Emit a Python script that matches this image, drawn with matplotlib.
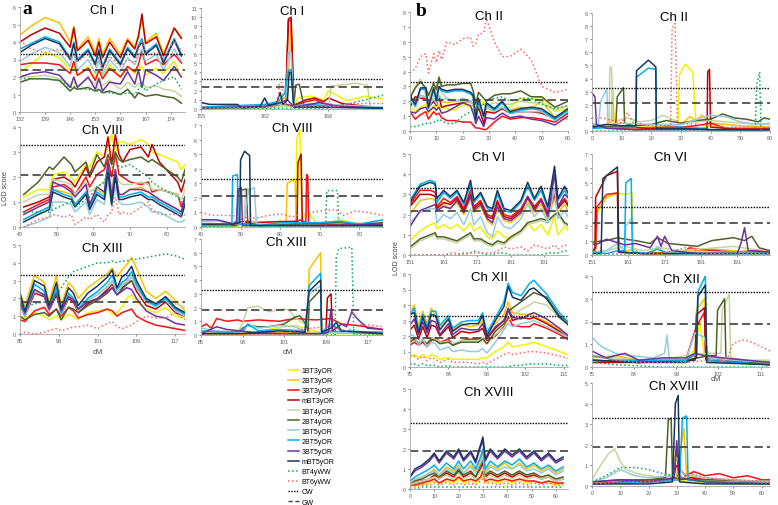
import matplotlib.pyplot as plt
from matplotlib.lines import Line2D

plt.rcParams['font.family'] = ['Liberation Sans', 'DejaVu Sans']

# traits in legend order
traits = ["1BT3yOR", "2BT3yOR", "3BT3yOR", "mBT3yOR", "1BT4yOR", "2BT4yOR",
          "1BT5yOR", "2BT5yOR", "3BT5yOR", "mBT5yOR", "BT4yWW", "BT6yWW"]
trait_colors = ["#F2F200", "#FFC000", "#FF1010", "#C00000", "#C3D69B", "#4F6228",
                "#93CDDD", "#00B0F0", "#7030A0", "#17375E", "#00B050", "#FF6666"]
trait_styles = ["-"] * 10 + [":", ":"]

# significance thresholds (chromosome-wide CW, genome-wide GW)
cw_lod = 3.3
gw_chI, gw_chVIII, gw_chXIII = 2.4, 2.1, 1.8
gw_chII, gw_chVI, gw_chXII, gw_chXVIII = 2.1, 2.2, 1.9, 1.9

# ---------------- panel a, left column ----------------
chI_a_x = [132, 135, 139, 143, 146, 147, 148, 151, 153, 154, 155, 157, 160, 162, 164, 165, 166, 167, 170, 172, 175, 177]
chI_a_lod = [
    [2.3, 2.7, 3.4, 3.1, 2.4, 2.6, 2.1, 2.6, 1.9, 2.4, 2.0, 2.7, 2.0, 2.6, 2.2, 2.5, 2.6, 2.1, 2.5, 2.2, 2.9, 2.0],
    [4.4, 4.9, 5.4, 5.1, 4.0, 4.9, 3.6, 4.3, 3.4, 4.2, 3.3, 4.2, 3.3, 4.2, 3.7, 4.4, 5.3, 4.0, 4.5, 3.3, 4.8, 4.3],
    [2.7, 2.8, 2.8, 2.7, 2.2, 2.9, 2.1, 2.5, 1.8, 2.4, 1.9, 2.5, 2.0, 2.6, 2.3, 2.7, 3.5, 2.7, 3.0, 2.7, 3.3, 2.8],
    [4.0, 4.4, 4.8, 4.5, 3.7, 4.8, 3.5, 4.1, 3.2, 4.0, 3.1, 4.0, 3.1, 4.1, 3.6, 4.3, 5.6, 3.9, 4.3, 3.2, 4.8, 4.2],
    [2.0, 2.0, 2.1, 1.9, 1.5, 1.7, 1.5, 1.9, 1.6, 2.0, 1.5, 1.8, 1.3, 1.7, 1.4, 1.6, 1.7, 1.4, 1.5, 1.3, 1.2, 0.9],
    [1.7, 1.9, 1.9, 1.8, 1.2, 1.4, 1.3, 1.4, 1.2, 1.3, 1.1, 1.2, 1.0, 1.3, 0.8, 1.1, 1.0, 0.9, 1.0, 0.9, 0.8, 0.5],
    [2.9, 3.3, 3.7, 3.4, 2.6, 3.4, 2.4, 3.0, 2.2, 3.0, 2.1, 3.0, 2.3, 3.1, 2.7, 3.2, 3.6, 2.9, 3.3, 2.4, 3.6, 2.9],
    [3.6, 3.9, 4.3, 4.0, 3.1, 4.0, 3.0, 3.6, 2.8, 3.6, 2.6, 3.6, 2.8, 3.7, 3.2, 3.8, 4.2, 3.4, 3.9, 2.9, 4.2, 3.3],
    [2.0, 2.2, 2.3, 2.1, 1.4, 2.0, 1.4, 2.0, 1.3, 1.9, 1.2, 1.7, 1.6, 2.3, 1.6, 2.4, 1.4, 2.4, 2.1, 1.8, 2.6, 2.0],
    [3.4, 3.8, 4.2, 3.9, 3.0, 3.9, 2.9, 3.5, 2.7, 3.5, 2.5, 3.5, 2.7, 3.6, 3.1, 3.7, 4.0, 3.3, 3.8, 2.8, 4.1, 3.2],
    [1.9, 1.9, 1.9, 1.8, 1.4, 1.5, 1.3, 1.3, 1.2, 1.2, 1.1, 1.1, 1.0, 1.1, 1.0, 1.3, 1.6, 1.2, 1.6, 1.8, 2.0, 1.3],
    [4.1, 3.6, 3.4, 3.6, 3.1, 3.3, 2.9, 3.3, 2.6, 3.1, 2.5, 3.2, 2.6, 3.0, 2.8, 3.6, 4.0, 3.2, 3.4, 3.0, 4.1, 3.5],
]

chVIII_a_x = [41, 45, 48, 49, 52, 54, 55, 58, 59, 61, 63, 64, 65, 66, 67, 68, 70, 73, 75, 76, 78, 83, 84, 85]
chVIII_a_lod = [
    [1.2, 1.5, 1.5, 2.1, 2.2, 2.0, 1.8, 2.5, 2.4, 3.0, 2.8, 3.2, 3.7, 3.0, 3.4, 3.4, 3.3, 3.5, 3.3, 3.0, 2.9, 2.6, 2.3, 2.5],
    [0.3, 0.6, 0.8, 1.5, 1.4, 1.3, 0.9, 1.4, 0.9, 1.5, 1.3, 2.4, 1.1, 2.2, 1.3, 1.3, 1.5, 1.6, 1.4, 1.3, 1.1, 0.7, 0.6, 1.1],
    [0.6, 0.9, 1.1, 1.6, 1.7, 1.5, 1.3, 2.0, 1.6, 2.1, 2.3, 2.7, 2.0, 2.9, 2.1, 2.0, 1.8, 1.7, 1.8, 1.4, 1.5, 1.3, 0.8, 1.2],
    [0.8, 1.0, 1.2, 1.9, 2.0, 1.8, 1.6, 2.4, 2.0, 2.6, 2.8, 3.6, 2.5, 3.7, 2.9, 2.6, 3.1, 3.2, 2.8, 3.3, 2.6, 1.8, 1.4, 1.9],
    [1.0, 1.3, 1.3, 1.9, 1.8, 1.7, 1.3, 1.8, 1.4, 1.6, 1.8, 2.0, 1.6, 2.3, 1.8, 1.7, 1.7, 1.8, 1.7, 1.5, 1.5, 1.3, 1.1, 1.5],
    [1.3, 1.8, 2.4, 2.3, 2.8, 2.5, 2.2, 2.6, 2.1, 2.9, 2.4, 2.9, 2.5, 3.0, 2.7, 2.6, 2.7, 2.8, 2.6, 2.7, 2.5, 2.0, 1.8, 2.3],
    [0.0, 0.2, 0.4, 1.0, 1.0, 0.9, 0.6, 1.0, 0.5, 1.1, 0.9, 1.8, 0.8, 1.6, 1.0, 0.9, 0.9, 1.0, 0.8, 0.6, 0.6, 0.2, 0.2, 0.3],
    [0.3, 0.6, 0.8, 1.5, 1.3, 1.2, 0.9, 1.4, 0.8, 1.4, 1.2, 2.3, 1.0, 2.1, 1.2, 1.2, 1.3, 1.4, 1.2, 1.2, 1.0, 0.6, 0.5, 1.0],
    [0.5, 0.8, 1.0, 1.8, 1.6, 1.4, 1.2, 1.7, 0.9, 1.6, 1.4, 2.6, 1.2, 2.3, 1.3, 1.3, 1.5, 1.5, 1.4, 1.3, 1.1, 0.7, 0.6, 1.2],
    [0.2, 0.5, 0.7, 1.4, 1.2, 1.1, 0.8, 1.3, 0.7, 1.3, 1.1, 2.2, 0.9, 2.0, 1.1, 1.1, 1.2, 1.3, 1.1, 1.1, 0.9, 0.5, 0.4, 0.9],
    [0.6, 0.6, 0.6, 0.7, 0.9, 1.0, 0.8, 1.1, 1.2, 1.6, 1.8, 2.3, 2.3, 2.8, 2.4, 2.4, 2.5, 2.2, 2.0, 1.8, 1.6, 1.2, 1.0, 1.2],
    [0.0, 0.3, 0.4, 0.5, 0.4, 0.5, 0.1, 0.4, 0.3, 0.5, 0.2, 0.5, 0.6, 1.2, 0.5, 0.6, 0.5, 0.8, 1.0, 0.7, 0.5, 0.5, 0.4, 0.5],
]

chXIII_a_x = [85, 86, 88, 90, 91, 92.5, 93.5, 95, 96, 97, 99, 101, 103, 104, 105, 106, 107, 108, 109, 111, 113, 115, 117, 119]
chXIII_a_lod = [
    [1.0, 0.9, 1.2, 1.0, 0.8, 1.0, 0.8, 1.1, 1.0, 0.8, 1.2, 1.3, 1.4, 1.1, 1.2, 1.5, 2.0, 2.2, 1.8, 1.4, 1.2, 1.5, 1.0, 0.9],
    [2.3, 1.6, 3.3, 2.9, 1.8, 3.3, 1.6, 2.9, 2.6, 2.0, 2.6, 3.0, 3.4, 3.7, 3.2, 3.6, 3.9, 4.3, 3.7, 2.4, 2.0, 2.4, 1.9, 1.3],
    [0.8, 0.7, 1.3, 1.5, 1.1, 1.4, 1.0, 1.5, 1.3, 0.9, 1.1, 1.2, 1.4, 1.3, 1.0, 1.2, 1.3, 1.4, 1.0, 0.7, 0.5, 0.4, 0.3, 0.2],
    [1.7, 1.0, 2.3, 2.1, 1.3, 2.2, 1.1, 2.0, 1.8, 1.2, 1.7, 2.0, 2.5, 2.8, 2.3, 2.6, 2.8, 3.0, 2.4, 1.6, 1.4, 1.8, 1.2, 1.0],
    [1.8, 1.3, 2.4, 2.2, 1.5, 2.4, 1.3, 2.2, 2.0, 1.5, 2.0, 2.3, 2.6, 2.9, 2.5, 2.8, 3.0, 3.2, 2.8, 2.0, 1.7, 2.1, 1.7, 1.5],
    [1.0, 0.8, 1.1, 1.2, 1.0, 1.4, 0.8, 1.5, 1.4, 1.2, 1.6, 1.9, 2.3, 2.6, 2.2, 2.5, 2.8, 3.0, 2.6, 1.9, 1.6, 1.9, 1.4, 1.2],
    [1.9, 1.0, 2.5, 2.2, 1.3, 2.4, 1.1, 2.1, 1.9, 1.3, 1.9, 2.2, 2.7, 3.0, 2.3, 2.7, 2.9, 3.2, 2.6, 1.8, 1.5, 1.9, 1.3, 1.0],
    [2.1, 1.1, 2.8, 2.4, 1.4, 2.6, 1.2, 2.3, 2.0, 1.4, 2.0, 2.4, 2.9, 3.3, 2.5, 2.9, 3.1, 3.5, 2.8, 1.9, 1.6, 2.0, 1.4, 1.1],
    [1.8, 1.2, 2.5, 2.2, 1.4, 2.3, 1.3, 2.1, 1.9, 1.4, 1.8, 2.0, 2.4, 2.6, 2.2, 2.4, 2.6, 2.5, 2.0, 1.3, 1.0, 0.9, 0.6, 0.5],
    [2.3, 1.3, 3.0, 2.7, 1.6, 2.9, 1.4, 2.6, 2.3, 1.6, 2.3, 2.7, 3.2, 3.6, 2.6, 3.2, 3.4, 3.8, 3.0, 2.0, 1.7, 2.1, 1.5, 1.2],
    [1.4, 1.5, 1.7, 1.8, 1.8, 2.2, 2.6, 3.2, 3.5, 3.6, 3.8, 4.0, 4.0, 4.1, 4.0, 4.1, 4.1, 4.2, 4.2, 4.3, 4.4, 4.5, 4.4, 4.2],
    [0.0, 0.1, 0.0, 0.1, 0.2, 0.3, 0.2, 0.3, 0.4, 0.4, 0.5, 0.3, 0.6, 0.7, 0.4, 0.3, 0.4, 0.5, 0.7, 1.0, 0.9, 0.9, 1.2, 0.8],
]

# ---------------- panel a, right column (cM, LOD) ----------------
chI_a2_pts = [
    [(155, 0.2), (159, 0.3), (162, 0.3), (163.5, 0.5), (165.3, 0.3), (165.6, 1.2), (167, 1.4), (168.5, 1.0), (169, 2.0), (171, 0.9), (173, 1.4), (175, 1.1)],
    [(155, 0.1), (159, 0.4), (160, 0.1), (162, 0.3), (163.5, 0.6), (164.5, 1.5), (164.9, 9.0), (165.2, 0.3), (167, 0.5), (170, 0.2), (175, 0.1)],
    [(155, 0.1), (162, 0.2), (164.3, 0.8), (164.6, 9.6), (164.9, 9.7), (165.2, 0.3), (166.5, 0.8), (167.5, 1.0), (168.5, 0.6), (170, 0.4), (173, 0.2), (175, 0.1)],
    [(155, 0.1), (162, 0.2), (164.3, 0.6), (164.6, 9.8), (164.9, 10.0), (165.2, 0.4), (166.5, 1.0), (167.5, 1.2), (168.5, 0.8), (169, 1.2), (170.5, 0.6), (173, 0.3), (175, 0.1)],
    [(155, 0.1), (162, 0.1), (164.5, 0.3), (165.5, 0.2), (169, 0.2), (169.3, 2.5), (172, 2.8), (173.3, 2.6), (173.6, 0.1), (175, 0.1)],
    [(155, 0.1), (162, 0.2), (164, 0.6), (165.2, 0.3), (165.4, 2.6), (165.8, 2.7), (166.3, 0.4), (168, 0.2), (170, 0.3), (175, 0.1)],
    [(155, 0.2), (162, 0.3), (164.3, 0.6), (164.6, 6.2), (164.9, 6.2), (165.2, 0.3), (167, 0.6), (169, 0.5), (171, 0.4), (175, 0.2)],
    [(155, 0.2), (162, 0.5), (163.5, 0.8), (164.2, 1.7), (164.6, 4.2), (164.9, 4.3), (165.2, 0.3), (167, 0.5), (170, 0.2), (175, 0.1)],
    [(155, 0.1), (162, 0.3), (163.5, 0.6), (164.5, 1.0), (165.2, 0.2), (167, 0.5), (168, 0.7), (170, 0.3), (175, 0.1)],
    [(155, 0.7), (156, 0.5), (159, 0.5), (159.5, 0.1), (161.5, 0.3), (162, 1.2), (162.4, 0.4), (163.3, 0.6), (163.7, 1.8), (164, 0.5), (164.5, 1.0), (164.7, 4.0), (164.9, 4.0), (165.2, 0.2), (167, 0.2), (175, 0.1)],
    [(155, 0.0), (169, 0.1), (171, 0.5), (173, 1.0), (175, 1.5)],
    [(155, 0.1), (162, 0.2), (163.4, 0.3), (163.6, 2.8), (163.9, 2.9), (164.1, 0.5), (165, 0.3), (170, 0.3), (171, 0.6), (175, 0.6)],
]

chVIII_a2_pts = [
    [(40, 0.1), (58, 0.1), (60, 0.5), (61, 0.1), (63, 0.2), (64, 0.3), (64.2, 6.0), (65, 6.7), (65.5, 0.5), (67, 1.1), (69, 0.3), (73, 0.3), (75, 0.5), (80, 0.2), (86, 0.1)],
    [(40, 0.1), (55, 0.3), (61.5, 0.2), (61.8, 3.0), (63.8, 3.3), (64, 0.3), (67, 0.2), (86, 0.1)],
    [(40, 0.1), (52, 0.4), (55, 0.1), (64, 0.2), (65, 0.5), (66.5, 0.3), (66.7, 3.6), (67, 3.5), (67.2, 0.2), (86, 0.1)],
    [(40, 0.1), (52, 0.3), (64.3, 0.4), (64.5, 4.4), (65.3, 5.0), (65.6, 0.3), (68, 0.1), (86, 0.1)],
    [(40, 0.3), (47, 0.2), (51, 0.3), (51.2, 2.6), (52.3, 2.6), (52.6, 0.3), (60, 0.1), (75, 0.3), (86, 0.2)],
    [(40, 0.1), (49, 0.1), (49.5, 2.5), (51.5, 2.6), (51.8, 0.3), (55, 0.1), (75, 0.3), (80, 0.2), (86, 0.3)],
    [(40, 0.4), (45, 0.4), (47, 0.2), (51, 0.6), (52, 2.5), (53.5, 2.7), (54, 0.2), (60, 0.1), (86, 0.1)],
    [(40, 0.1), (47.8, 0.1), (48, 3.5), (49.2, 3.6), (49.4, 0.2), (55, 0.1), (60, 0.3), (70, 0.3), (75, 0.4), (80, 0.2), (86, 0.5)],
    [(40, 0.5), (44, 0.5), (47, 0.3), (48, 0.1), (49, 0.4), (49.3, 2.6), (50.2, 2.7), (50.5, 0.1), (60, 0.1), (75, 0.1), (86, 0.2)],
    [(40, 0.2), (48, 0.2), (49.8, 0.3), (50, 4.6), (51, 5.2), (52.3, 4.9), (52.5, 0.1), (60, 0.1), (86, 0.1)],
    [(40, 0.0), (71.5, 0.0), (71.8, 2.5), (74.5, 2.5), (74.8, 0.0), (86, 0.0)],
    [(40, 1.0), (43, 0.8), (47, 0.8), (50, 0.7), (54, 0.6), (57, 0.8), (60, 0.9), (63, 0.7), (66, 0.9), (70, 1.1), (74, 1.2), (76, 0.8), (79, 1.1), (82, 1.0), (86, 0.8)],
]

chXIII_a2_pts = [
    [(85, 0.1), (95, 0.1), (97, 0.3), (99, 0.5), (103, 0.7), (105, 0.5), (107, 0.3), (109, 0.1), (120, 0.1)],
    [(85, 0.1), (105.5, 0.2), (105.8, 4.8), (108, 6.0), (108.2, 0.2), (120, 0.1)],
    [(85, 0.6), (86, 0.8), (87, 0.5), (88, 1.2), (90, 1.0), (92, 1.1), (93, 1.0), (96, 1.1), (100, 1.0), (103, 1.2), (107, 1.1), (110, 1.2), (112, 0.8), (115, 0.7), (120, 0.4)],
    [(85, 0.1), (109, 0.1), (109.3, 2.7), (110, 3.0), (110.3, 0.2), (120, 0.1)],
    [(85, 0.1), (92, 0.1), (93, 0.9), (94, 2.0), (96, 2.1), (98, 1.7), (101, 1.9), (102, 1.8), (103, 1.3), (105, 0.8), (106, 0.2), (120, 0.1)],
    [(85, 0.1), (92, 0.1), (93, 0.5), (94, 0.7), (96, 0.6), (98, 0.6), (101, 0.8), (103, 1.3), (104, 1.4), (105, 0.9), (105.6, 0.3), (105.8, 2.4), (108, 3.3), (108.2, 0.3), (120, 0.1)],
    [(85, 0.5), (88, 0.3), (93, 0.2), (94, 0.8), (96, 0.5), (100, 0.7), (103, 0.6), (105, 0.3), (105.8, 3.0), (108, 3.6), (108.2, 0.2), (120, 0.2)],
    [(85, 0.3), (90, 0.2), (93, 0.3), (94, 0.8), (96, 0.3), (100, 0.4), (105, 0.3), (105.8, 3.6), (108, 4.5), (108.2, 0.2), (110, 0.8), (112, 0.3), (120, 0.2)],
    [(85, 0.1), (88, 0.6), (90, 0.4), (95, 0.2), (100, 0.1), (108, 0.1), (109.5, 0.2), (110, 1.9), (110.3, 0.3), (112, 0.8), (113, 0.6), (114, 1.7), (115, 1.2), (117, 0.5), (120, 0.4)],
    [(85, 0.1), (93, 0.1), (96, 0.2), (100, 0.3), (105, 0.2), (105.8, 3.2), (108, 4.0), (108.2, 0.2), (110, 0.5), (111, 0.9), (112, 0.3), (120, 0.1)],
    [(85, 0.0), (110.8, 0.0), (111, 5.6), (111.5, 6.3), (114, 6.4), (114.4, 0.0), (120, 0.0)],
    [(85, 0.0), (100, 0.0), (103, 0.3), (106, 0.5), (110, 0.6), (113, 0.3), (116, 0.8), (118, 0.7), (120, 0.6)],
]

# ---------------- panel b, left column ----------------
chII_b_x = [0, 2, 4, 6, 7, 9, 10, 11, 12, 14, 17, 20, 23, 24, 25, 26, 28, 29, 32, 35, 38, 42, 46, 50, 55, 60]
chII_b_lod = [
    [1.6, 1.3, 1.6, 1.8, 1.2, 1.7, 1.4, 1.8, 1.6, 1.5, 1.4, 1.8, 1.6, 1.3, 1.5, 1.9, 2.0, 1.5, 1.3, 1.5, 1.6, 2.2, 2.1, 2.3, 1.3, 1.5],
    [1.9, 2.2, 2.4, 2.3, 1.8, 2.2, 1.9, 2.3, 2.0, 1.9, 2.0, 2.0, 1.9, 1.8, 1.0, 1.7, 1.2, 1.6, 1.5, 1.6, 1.4, 1.6, 1.5, 2.0, 0.9, 0.8],
    [1.3, 0.8, 1.1, 1.3, 0.8, 1.3, 1.1, 1.2, 0.9, 0.7, 0.7, 0.6, 0.6, 0.4, 0.2, 0.2, 0.1, 0.1, 0.6, 1.0, 0.8, 0.9, 0.9, 0.8, 0.6, 1.2],
    [1.6, 2.3, 2.2, 2.2, 1.6, 2.0, 1.7, 2.3, 1.6, 1.7, 1.8, 1.9, 2.0, 1.8, 0.9, 1.6, 0.5, 1.3, 1.2, 1.5, 1.2, 1.3, 1.3, 1.2, 0.8, 1.2],
    [2.3, 3.0, 3.5, 2.4, 2.0, 3.3, 2.5, 3.7, 2.6, 2.2, 2.0, 2.0, 1.9, 1.8, 1.6, 1.8, 1.7, 1.7, 1.9, 1.8, 1.8, 2.0, 1.9, 1.9, 1.4, 1.7],
    [2.2, 2.9, 3.3, 2.9, 2.4, 3.2, 2.8, 3.6, 3.0, 3.1, 3.1, 3.2, 3.2, 2.7, 1.8, 2.6, 2.2, 2.0, 2.4, 2.5, 2.5, 2.7, 2.3, 2.3, 1.6, 2.0],
    [2.1, 1.6, 2.4, 2.3, 1.6, 2.2, 1.8, 2.4, 2.1, 2.2, 2.0, 2.2, 2.0, 1.8, 1.0, 1.8, 1.1, 1.6, 1.3, 1.6, 1.2, 1.3, 1.3, 1.3, 0.7, 1.3],
    [2.3, 1.7, 2.8, 2.8, 1.5, 2.8, 2.0, 2.9, 2.7, 2.6, 2.7, 2.7, 2.5, 2.3, 0.7, 2.1, 0.9, 1.8, 1.4, 1.9, 1.2, 1.4, 1.5, 1.4, 0.8, 1.4],
    [1.3, 1.2, 1.5, 1.6, 1.3, 1.6, 1.4, 1.6, 1.2, 1.3, 1.6, 1.9, 1.7, 1.2, 0.5, 1.0, 0.3, 0.9, 0.8, 1.2, 0.9, 1.0, 0.8, 0.7, 0.4, 1.0],
    [2.4, 1.8, 2.9, 2.9, 1.6, 2.9, 2.1, 3.0, 2.8, 2.7, 2.8, 2.8, 2.6, 2.4, 0.8, 2.2, 1.0, 1.9, 1.5, 2.0, 1.3, 1.5, 1.6, 1.5, 0.9, 1.5],
    [0.3, 0.3, 0.4, 0.5, 0.5, 0.6, 0.6, 0.8, 0.7, 0.5, 0.5, 1.0, 1.3, 1.5, 1.5, 1.9, 1.8, 2.0, 2.2, 2.3, 2.0, 2.2, 2.2, 1.8, 1.5, 1.7],
    [3.9, 4.2, 5.0, 5.2, 3.9, 5.2, 4.6, 5.4, 4.8, 6.0, 5.8, 6.2, 6.3, 5.7, 5.9, 6.5, 6.6, 7.6, 6.0, 5.0, 5.0, 5.5, 4.8, 3.0, 2.6, 2.8],
]

chVI_b_x = [151, 154, 157, 158.5, 159, 161, 163, 165, 167, 169, 170, 172, 174, 175.5, 177, 179, 181, 184, 186, 188, 190, 192, 194, 195, 197, 200]
chVI_b_lod = [
    [0.7, 1.2, 1.5, 1.6, 1.3, 1.5, 1.3, 1.5, 1.2, 1.6, 1.2, 1.4, 0.9, 0.8, 1.2, 0.9, 0.8, 1.2, 1.6, 1.2, 1.5, 1.0, 1.9, 1.0, 1.4, 0.9],
    [2.0, 2.7, 2.8, 2.7, 2.2, 2.5, 2.3, 2.6, 2.0, 2.8, 2.1, 2.4, 1.7, 1.5, 2.3, 1.7, 1.6, 2.0, 2.6, 2.1, 2.5, 1.8, 2.8, 2.1, 2.5, 1.5],
    [2.5, 3.2, 3.2, 3.1, 2.4, 2.8, 2.6, 2.9, 2.3, 3.2, 2.4, 2.7, 2.0, 1.9, 2.7, 2.0, 1.9, 2.3, 2.9, 2.4, 2.8, 2.1, 3.2, 2.4, 2.8, 2.0],
    [2.4, 3.0, 3.0, 2.9, 2.3, 2.6, 2.5, 2.8, 2.2, 3.0, 2.3, 2.6, 1.9, 1.8, 2.6, 1.9, 1.8, 2.2, 2.8, 2.3, 2.7, 2.0, 3.0, 2.3, 2.7, 1.9],
    [0.3, 0.7, 0.9, 1.0, 0.8, 0.8, 0.7, 0.6, 0.8, 1.0, 0.7, 0.7, 0.5, 0.4, 0.6, 0.5, 0.8, 1.1, 1.5, 1.6, 1.7, 1.6, 1.9, 2.0, 1.5, 1.2],
    [0.4, 0.8, 1.0, 1.1, 0.9, 0.9, 0.8, 0.7, 0.9, 1.1, 0.8, 0.8, 0.6, 0.5, 0.7, 0.6, 0.9, 1.2, 1.6, 1.7, 1.8, 1.7, 2.0, 2.1, 1.6, 1.3],
    [1.6, 2.1, 2.3, 2.3, 1.6, 2.0, 1.8, 2.1, 1.5, 2.3, 1.5, 1.9, 1.1, 0.9, 1.9, 1.4, 1.3, 1.8, 2.5, 1.9, 2.3, 1.6, 3.3, 1.8, 2.2, 1.3],
    [2.7, 3.5, 3.7, 3.6, 2.6, 3.1, 2.8, 3.1, 2.5, 3.5, 2.6, 3.0, 2.3, 2.2, 3.0, 2.2, 2.1, 2.6, 3.4, 2.7, 3.2, 2.3, 4.0, 2.7, 3.2, 2.2],
    [1.4, 2.2, 2.4, 2.5, 2.2, 2.4, 2.3, 2.7, 2.1, 2.9, 2.2, 2.5, 1.8, 1.6, 2.4, 1.8, 1.7, 2.1, 2.9, 2.2, 2.7, 1.9, 4.0, 2.4, 3.0, 2.5],
    [2.6, 3.4, 3.6, 3.5, 2.8, 3.2, 2.9, 3.2, 2.6, 3.7, 2.7, 3.1, 2.4, 2.3, 3.2, 2.3, 2.2, 2.7, 3.6, 2.8, 3.4, 2.4, 4.4, 2.8, 3.4, 2.4],
    [0.0, 0.0, 0.0, 0.0, 0.0, 0.0, 0.0, 0.0, 0.1, 0.1, 0.2, 0.1, 0.0, 0.0, 0.1, 0.1, 0.0, 0.0, 0.0, 0.0, 0.0, 0.1, 0.1, 0.1, 0.2, 0.2],
    [0.0, 0.0, 0.0, 0.0, 0.0, 0.0, 0.1, 0.1, 0.0, 0.1, 0.1, 0.1, 0.1, 0.1, 0.2, 0.4, 0.3, 0.4, 0.2, 0.5, 0.4, 0.3, 0.5, 0.3, 0.5, 0.3],
]

chXII_b_x = [75, 76, 77, 78, 79, 80, 81, 82, 84, 85, 87, 89, 91, 92, 93, 95, 97, 98, 99, 101, 103, 104, 107, 110, 113]
chXII_b_lod = [
    [0.6, 0.8, 0.6, 0.8, 0.6, 0.8, 0.7, 0.5, 0.6, 0.5, 0.5, 0.5, 0.5, 0.6, 0.6, 1.0, 1.3, 1.6, 1.3, 1.4, 1.5, 1.6, 1.3, 1.0, 0.7],
    [3.5, 4.0, 2.7, 3.6, 2.8, 3.8, 3.3, 2.6, 3.1, 2.4, 2.8, 2.6, 2.7, 3.0, 2.3, 2.8, 3.4, 4.2, 3.5, 3.4, 3.4, 3.3, 2.9, 2.4, 1.9],
    [1.4, 1.6, 1.4, 1.6, 1.3, 1.7, 1.9, 1.6, 1.8, 1.4, 1.7, 1.8, 1.8, 1.9, 1.7, 2.0, 2.6, 3.2, 2.7, 2.6, 2.6, 2.8, 2.5, 2.1, 1.6],
    [2.4, 2.7, 1.8, 2.6, 1.9, 2.7, 2.6, 2.0, 2.6, 1.9, 2.3, 2.2, 2.3, 2.5, 1.8, 2.5, 3.0, 3.7, 3.0, 3.2, 3.1, 3.2, 2.8, 2.3, 1.7],
    [1.7, 1.9, 1.6, 1.8, 1.6, 1.9, 1.8, 1.6, 1.6, 1.5, 1.7, 1.7, 1.7, 1.9, 1.5, 2.1, 2.5, 3.0, 3.3, 3.7, 4.0, 4.2, 4.0, 3.2, 2.6],
    [1.6, 1.8, 1.5, 1.7, 1.5, 1.8, 1.7, 1.5, 1.6, 1.4, 1.6, 1.6, 1.6, 1.8, 1.5, 2.3, 2.8, 3.6, 3.8, 4.2, 4.6, 4.8, 4.5, 3.3, 2.7],
    [2.1, 2.0, 1.4, 1.8, 1.3, 1.6, 1.5, 1.1, 1.3, 1.0, 1.1, 1.0, 1.0, 1.2, 0.9, 1.6, 2.4, 2.8, 2.6, 2.8, 2.9, 3.0, 2.6, 2.2, 1.8],
    [3.3, 3.8, 2.4, 3.4, 2.6, 3.6, 3.6, 2.7, 3.3, 2.5, 2.9, 3.0, 3.0, 3.5, 2.2, 3.2, 4.2, 5.4, 4.8, 4.6, 5.4, 5.6, 4.7, 3.5, 2.6],
    [2.7, 3.1, 2.1, 2.9, 2.2, 3.0, 2.9, 2.1, 2.8, 2.1, 2.5, 2.4, 2.4, 2.8, 1.9, 2.6, 3.0, 3.8, 3.2, 3.1, 3.4, 3.5, 3.1, 2.5, 1.8],
    [3.4, 3.5, 2.2, 3.2, 2.4, 3.4, 3.3, 2.4, 3.1, 2.3, 2.7, 2.8, 2.8, 3.3, 2.0, 3.0, 3.9, 5.2, 4.5, 4.3, 5.0, 5.1, 4.4, 3.2, 2.5],
    [0.2, 0.2, 0.1, 0.2, 0.1, 0.1, 0.1, 0.0, 0.1, 0.0, 0.0, 0.0, 0.0, 0.0, 0.0, 0.0, 0.0, 0.0, 0.1, 0.1, 0.2, 0.2, 0.2, 0.1, 0.1],
    [0.8, 0.7, 0.5, 0.7, 0.4, 0.6, 0.5, 0.3, 0.5, 0.3, 0.3, 0.3, 0.2, 0.3, 0.2, 0.5, 0.8, 0.9, 0.8, 0.9, 1.0, 1.0, 0.9, 0.7, 0.5],
]

chXVIII_b_x = [0, 2, 5, 8, 10, 12, 15, 18, 20, 22, 25, 27, 29, 30, 31, 33, 36, 39, 42, 45, 48, 51, 54, 57, 60, 63]
chXVIII_b_lod = [
    [0.1, 0.2, 0.2, 0.3, 0.4, 0.3, 0.4, 0.3, 0.5, 0.3, 0.4, 0.3, 0.5, 0.7, 0.3, 0.4, 0.3, 0.4, 0.3, 0.4, 0.3, 0.4, 0.3, 0.3, 0.2, 0.3],
    [0.3, 0.4, 0.6, 0.8, 1.0, 0.7, 1.1, 0.9, 1.2, 0.8, 1.2, 0.9, 1.5, 1.8, 0.9, 1.2, 1.0, 1.3, 1.0, 1.3, 1.0, 1.2, 0.9, 1.1, 0.8, 1.0],
    [0.2, 0.2, 0.3, 0.4, 0.5, 0.3, 0.5, 0.4, 0.6, 0.4, 0.5, 0.4, 0.6, 0.9, 0.4, 0.5, 0.4, 0.5, 0.4, 0.5, 0.4, 0.4, 0.3, 0.4, 0.3, 0.3],
    [0.2, 0.3, 0.4, 0.5, 0.7, 0.5, 0.8, 0.6, 0.9, 0.6, 0.8, 0.6, 1.0, 1.3, 0.6, 0.8, 0.6, 0.8, 0.6, 0.8, 0.6, 0.7, 0.5, 0.6, 0.4, 0.5],
    [0.2, 0.3, 0.4, 0.5, 0.6, 0.5, 0.7, 0.5, 0.8, 0.5, 0.7, 0.5, 0.9, 1.1, 0.5, 0.7, 0.5, 0.7, 0.5, 0.7, 0.5, 0.6, 0.5, 0.6, 0.4, 0.5],
    [0.3, 0.4, 0.5, 0.7, 0.8, 0.6, 0.9, 0.7, 1.0, 0.7, 0.9, 0.6, 1.2, 1.5, 0.7, 0.9, 0.7, 0.9, 0.7, 0.9, 0.7, 0.8, 0.6, 0.7, 0.5, 0.6],
    [0.3, 0.5, 0.6, 0.8, 0.9, 0.7, 1.0, 0.8, 1.1, 0.8, 1.1, 0.8, 1.3, 1.6, 0.8, 1.1, 0.9, 1.1, 1.0, 1.2, 0.9, 1.0, 0.8, 1.0, 0.7, 0.9],
    [0.4, 0.6, 0.8, 1.0, 1.2, 0.9, 1.3, 1.0, 1.4, 1.0, 1.4, 1.0, 1.6, 2.0, 1.0, 1.4, 1.1, 1.4, 1.2, 1.5, 1.1, 1.3, 1.0, 1.2, 0.9, 1.1],
    [0.6, 0.9, 1.1, 1.4, 1.7, 1.3, 1.8, 1.5, 1.9, 1.4, 1.8, 1.3, 2.1, 2.4, 1.4, 1.9, 1.5, 1.9, 1.6, 1.9, 1.5, 1.8, 1.4, 1.7, 1.3, 1.5],
    [0.6, 1.0, 1.2, 1.5, 1.8, 1.4, 1.9, 1.6, 2.0, 1.5, 1.9, 1.4, 2.2, 2.6, 1.5, 2.0, 1.6, 2.0, 1.7, 2.0, 1.6, 1.9, 1.5, 1.8, 1.4, 1.6],
    [0.0, 0.0, 0.1, 0.1, 0.1, 0.1, 0.1, 0.1, 0.1, 0.1, 0.1, 0.1, 0.1, 0.1, 0.1, 0.1, 0.1, 0.1, 0.1, 0.1, 0.1, 0.1, 0.1, 0.1, 0.1, 0.1],
    [0.1, 0.1, 0.2, 0.2, 0.3, 0.2, 0.3, 0.2, 0.3, 0.2, 0.3, 0.2, 0.4, 0.5, 0.3, 0.3, 0.2, 0.3, 0.2, 0.3, 0.2, 0.3, 0.2, 0.3, 0.2, 0.2],
]

# ---------------- panel b, right column (cM, LOD) ----------------
chII_b2_pts = [
    [(0, 0.3), (5, 0.3), (15, 0.1), (28, 0.2), (29, 0.6), (29.5, 4.3), (31.5, 5.1), (34, 4.5), (35, 0.6), (38, 0.4), (45, 0.2), (60, 0.2)],
    [(0, 0.4), (5, 0.5), (6.5, 0.7), (7, 3.2), (7.5, 0.5), (10, 0.3), (20, 0.3), (30, 0.5), (33, 1.1), (35, 0.8), (37, 1.2), (40, 0.6), (50, 0.4), (60, 0.3)],
    [(0, 0.6), (3, 0.3), (8, 0.2), (15, 0.1), (25, 0.3), (30, 0.3), (35, 0.4), (40, 0.6), (45, 0.2), (52, 0.2), (60, 0.2)],
    [(0, 0.3), (10, 0.3), (20, 0.2), (30, 0.2), (38.8, 0.2), (39, 4.5), (39.6, 4.7), (40, 0.3), (50, 0.1), (60, 0.1)],
    [(0, 0.6), (5, 0.4), (5.8, 0.5), (6, 4.9), (6.6, 4.8), (7, 0.7), (12, 1.0), (16, 0.7), (20, 0.8), (24, 1.2), (30, 0.6), (40, 0.8), (50, 0.6), (60, 0.5)],
    [(0, 0.4), (5, 0.3), (8, 0.4), (8.5, 2.6), (10, 3.1), (10.6, 3.3), (11, 0.6), (14, 0.4), (20, 0.5), (25, 0.8), (30, 0.6), (35, 0.8), (40, 0.9), (44, 1.3), (48, 1.0), (52, 0.9), (56, 0.7), (58, 1.0), (60, 0.9)],
    [(0, 0.6), (2, 0.3), (3, 2.3), (5, 3.2), (5.4, 0.5), (10, 0.6), (20, 0.5), (30, 0.5), (40, 1.2), (45, 1.1), (50, 0.7), (55, 0.5), (60, 0.6)],
    [(0, 0.2), (10, 0.3), (14.8, 0.3), (15, 4.1), (19, 4.8), (21.5, 4.7), (21.7, 0.2), (30, 0.3), (40, 0.1), (60, 0.1)],
    [(0, 2.9), (1, 2.6), (1.5, 0.5), (5, 0.2), (15, 0.1), (30, 0.1), (40, 0.1), (60, 0.1)],
    [(0, 0.3), (5, 0.5), (10, 0.4), (14.8, 0.4), (15, 4.6), (19, 5.4), (21.5, 4.9), (21.7, 0.2), (30, 0.2), (40, 0.1), (60, 0.1)],
    [(0, 0.0), (55, 0.0), (55.5, 3.5), (56.5, 4.5), (57, 0.0), (60, 0.0)],
    [(0, 1.0), (3, 1.0), (7, 0.8), (10, 0.6), (12, 1.4), (14, 0.6), (20, 0.4), (26.5, 0.4), (27, 7.8), (28, 8.2), (28.8, 0.6), (35, 0.5), (45, 0.3), (60, 0.3)],
]

chVI_b2_pts = [
    [(151, 0.1), (152, 0.5), (152.5, 3.0), (155, 4.0), (158, 4.3), (160, 4.2), (162, 4.3), (162.3, 0.2), (165, 0.1), (180, 0.1), (200, 0.1)],
    [(151, 0.1), (152, 0.3), (152.5, 3.0), (155, 4.0), (158, 4.3), (158.3, 0.2), (163, 0.4), (164, 0.1), (185, 0.4), (190, 0.3), (195, 0.1), (200, 0.2)],
    [(151, 0.1), (152, 0.5), (152.3, 3.3), (155, 4.2), (158, 4.3), (158.3, 0.2), (165, 0.1), (175, 0.1), (178, 0.5), (180, 0.4), (190, 0.2), (196, 0.3), (200, 0.3)],
    [(151, 0.1), (151.8, 0.5), (152, 4.0), (155, 5.5), (158, 5.8), (158.4, 0.2), (165, 0.1), (200, 0.2)],
    [(151, 0.2), (155, 0.3), (158, 0.5), (160, 0.6), (165, 0.3), (170, 0.5), (175, 0.3), (185, 0.5), (190, 0.6), (195, 0.4), (200, 0.3)],
    [(151, 0.9), (155, 1.0), (158, 1.2), (160, 1.1), (163, 1.0), (167, 0.8), (169, 1.2), (172, 0.8), (176, 0.7), (180, 0.6), (184, 1.0), (190, 1.2), (193, 1.0), (195, 1.3), (197, 0.5), (200, 0.3)],
    [(151, 0.2), (155, 0.3), (158, 0.8), (160, 0.3), (160.3, 2.0), (162, 2.6), (162.3, 0.3), (165, 0.1), (168, 0.3), (169, 0.6), (171, 0.2), (185, 0.2), (200, 0.2)],
    [(151, 0.2), (155, 0.1), (158, 0.3), (160, 0.3), (160.3, 5.0), (161.8, 5.3), (162.1, 0.2), (166, 0.1), (169, 0.4), (172, 0.1), (200, 0.1)],
    [(151, 0.8), (152, 0.7), (155, 1.1), (160, 0.7), (163, 0.8), (167, 0.5), (169, 1.3), (170, 0.6), (171, 1.3), (173, 0.3), (180, 0.1), (191, 0.1), (192, 0.8), (193, 1.9), (194, 0.3), (200, 0.2)],
    [(151, 0.1), (153.5, 0.1), (154, 5.3), (158, 6.1), (158.3, 0.2), (165, 0.1), (200, 0.1)],
    [(151, 0.0), (170, 0.0), (180, 0.1), (200, 0.1)],
    [(151, 0.1), (170, 0.1), (175, 0.4), (178, 0.6), (180, 0.2), (185, 0.1), (200, 0.1)],
]

chXII_b2_pts = [
    [(75, 0.3), (85, 0.2), (95, 0.3), (97, 0.8), (98, 2.0), (99, 0.5), (105, 0.3), (113, 0.2)],
    [(75, 0.4), (80, 0.5), (85, 0.3), (95, 0.3), (97, 0.5), (97.3, 2.5), (99, 3.0), (99.3, 0.3), (105, 0.2), (113, 0.2)],
    [(75, 0.3), (85, 0.2), (95, 0.3), (97.3, 1.8), (99, 2.4), (99.3, 0.4), (105, 0.3), (113, 0.2)],
    [(75, 0.2), (85, 0.2), (97, 0.3), (97.3, 2.3), (99, 2.6), (99.3, 0.3), (113, 0.1)],
    [(75, 0.5), (80, 0.4), (85, 0.3), (92, 0.4), (95, 0.5), (100, 0.6), (102.5, 0.6), (102.8, 2.5), (104.3, 3.2), (104.6, 0.4), (108, 0.3), (113, 0.3)],
    [(75, 0.3), (85, 0.2), (95, 0.3), (100, 0.5), (101.5, 0.5), (101.8, 2.5), (103.3, 3.0), (103.6, 0.3), (108, 0.2), (113, 0.2)],
    [(75, 1.3), (77, 0.9), (80, 0.6), (83, 0.5), (88, 0.4), (90.5, 0.6), (91, 1.4), (91.5, 0.4), (95, 0.3), (97, 1.5), (99, 1.3), (100, 0.4), (105, 0.3), (113, 0.2)],
    [(75, 0.5), (80, 0.3), (85, 0.3), (95, 0.3), (97.3, 0.6), (97.6, 3.3), (99.2, 4.0), (99.5, 0.3), (105, 0.2), (113, 0.1)],
    [(75, 0.7), (78, 0.4), (82, 0.6), (85, 0.3), (90, 0.4), (95, 0.4), (97, 0.6), (99, 0.5), (103, 0.4), (108, 0.3), (113, 0.2)],
    [(75, 0.3), (85, 0.2), (95, 0.2), (97.3, 0.4), (97.6, 3.1), (99.2, 3.6), (99.5, 0.2), (113, 0.1)],
    [(75, 0.2), (80, 0.1), (90, 0.0), (113, 0.0)],
    [(75, 0.5), (80, 0.3), (85, 0.2), (95, 0.2), (100, 0.3), (104, 0.4), (105, 1.0), (107, 1.2), (109, 1.1), (111, 0.9), (113, 0.7)],
]

chXVIII_b2_pts = [
    [(0, 0.1), (10, 0.2), (20, 0.2), (28, 0.3), (29, 1.5), (30, 0.3), (35, 0.2), (50, 0.1), (65, 0.1)],
    [(0, 0.1), (10, 0.3), (20, 0.3), (28, 0.3), (30, 0.5), (32.5, 2.8), (33.5, 0.5), (40, 0.3), (65, 0.2)],
    [(0, 0.1), (10, 0.2), (20, 0.3), (28, 0.3), (30, 1.0), (33, 0.5), (36, 0.7), (40, 0.5), (45, 0.6), (50, 0.4), (55, 0.5), (60, 0.3), (65, 0.3)],
    [(0, 0.1), (20, 0.2), (29, 0.3), (30, 1.9), (30.8, 0.3), (35, 0.4), (40, 0.3), (50, 0.2), (65, 0.2)],
    [(0, 0.3), (3, 1.0), (6, 1.6), (8, 1.8), (10, 1.2), (12, 0.8), (16, 0.6), (20, 0.5), (25, 0.4), (30, 0.5), (35, 0.3), (50, 0.2), (65, 0.2)],
    [(0, 0.2), (10, 0.3), (20, 0.3), (26, 0.4), (27, 3.2), (28, 3.3), (28.5, 0.4), (35, 0.3), (45, 0.3), (65, 0.2)],
    [(0, 0.2), (5, 0.4), (10, 0.8), (15, 0.5), (20, 0.4), (28, 0.5), (30, 1.4), (32, 0.6), (40, 0.4), (50, 0.3), (65, 0.2)],
    [(0, 0.1), (20, 0.2), (31, 0.3), (32, 3.3), (33.5, 3.4), (34, 0.3), (40, 0.2), (65, 0.1)],
    [(0, 0.2), (10, 0.3), (20, 0.2), (29, 0.4), (30, 2.2), (31, 0.4), (40, 0.2), (65, 0.1)],
    [(0, 0.1), (20, 0.1), (28.5, 0.2), (29.5, 4.0), (30.5, 4.4), (31, 0.2), (40, 0.1), (65, 0.1)],
    [(0, 0.2), (5, 0.5), (10, 0.9), (15, 0.9), (20, 0.8), (25, 0.6), (30, 0.5), (35, 0.3), (45, 0.2), (65, 0.1)],
    [(0, 0.1), (10, 0.2), (20, 0.2), (30, 0.3), (35, 0.6), (40, 0.4), (50, 0.3), (65, 0.2)],
]

# x tick positions (cM)
ticks_chI_a = [132, 139, 146, 153, 160, 167, 174]
ticks_chI_a2 = [155, 162, 169]
ticks_chVIII = [40, 50, 60, 70, 80]
ticks_chXIII = [85, 93, 101, 109, 117]
ticks_chII = [0, 10, 20, 30, 40, 50, 60]
ticks_chVI = [151, 161, 171, 181, 191]
ticks_chXII = [75, 84, 93, 102, 111]
ticks_chXVIII = [0, 10, 20, 30, 40, 50, 60]

W, H = 778, 506
fig = plt.figure(figsize=(W / 100, H / 100), dpi=100)


def px_rect(left, top, right, bottom):
    return [left / W, 1 - bottom / H, (right - left) / W, (bottom - top) / H]


# (pixel box, title, title x in axes fraction, x grid or None, lod data,
#  xlim, xticks, ymax, GW threshold)
panels = [
    ((20, 8, 185, 113), "Ch I", 0.5, chI_a_x, chI_a_lod, (132, 178), ticks_chI_a, 6, gw_chI),
    ((20, 128, 185, 228), "Ch VIII", 0.5, chVIII_a_x, chVIII_a_lod, (40, 85), ticks_chVIII, 4, gw_chVIII),
    ((20, 246, 185, 335), "Ch XIII", 0.5, chXIII_a_x, chXIII_a_lod, (85, 119), ticks_chXIII, 5, gw_chXIII),
    ((201, 9, 383, 110), "Ch I", 0.5, None, chI_a2_pts, (155, 175), ticks_chI_a2, 11, gw_chI),
    ((201, 126, 383, 228), "Ch VIII", 0.5, None, chVIII_a2_pts, (40, 86), ticks_chVIII, 7, gw_chVIII),
    ((201, 240, 383, 336), "Ch XIII", 0.47, None, chXIII_a2_pts, (85, 120), ticks_chXIII, 7, gw_chXIII),
    ((410, 13, 568, 132), "Ch II", 0.5, chII_b_x, chII_b_lod, (0, 60), ticks_chII, 8, gw_chII),
    ((410, 155, 568, 256), "Ch VI", 0.5, chVI_b_x, chVI_b_lod, (151, 198), ticks_chVI, 5, gw_chVI),
    ((410, 275, 568, 368), "Ch XII", 0.5, chXII_b_x, chXII_b_lod, (75, 112), ticks_chXII, 6, gw_chXII),
    ((410, 390, 568, 490), "Ch XVIII", 0.5, chXVIII_b_x, chXVIII_b_lod, (0, 65), ticks_chXVIII, 5, gw_chXVIII),
    ((592, 14, 770, 132), "Ch II", 0.46, None, chII_b2_pts, (0, 60), ticks_chII, 9, gw_chII),
    ((592, 155, 770, 256), "Ch VI", 0.44, None, chVI_b2_pts, (151, 200), ticks_chVI, 7, gw_chVI),
    ((592, 277, 770, 368), "Ch XII", 0.5, None, chXII_b2_pts, (75, 113), ticks_chXII, 4, gw_chXII),
    ((592, 384, 770, 487), "Ch XVIII", 0.46, None, chXVIII_b2_pts, (0, 63), ticks_chXVIII, 5, gw_chXVIII),
]

for box, title, title_x, xgrid, lods, xlim, xticks, ymax, gw in panels:
    ax = fig.add_axes(px_rect(*box))
    for i, trait in enumerate(traits):
        if xgrid is not None:
            xs, ys = xgrid, lods[i]
        else:
            xs = [p[0] for p in lods[i]]
            ys = [p[1] for p in lods[i]]
        ax.plot(xs, ys, color=trait_colors[i], linestyle=trait_styles[i],
                linewidth=1.1, label=trait)
    ax.axhline(cw_lod, color="black", linestyle=(0, (1, 1)), linewidth=1.0)
    ax.axhline(gw, color="#404040", linestyle=(0, (5, 2.5)), linewidth=1.2)
    ax.set_xlim(*xlim)
    ax.set_ylim(0, ymax)
    ax.set_xticks(xticks)
    ax.set_yticks(range(0, ymax + 1))
    ax.tick_params(labelsize=3.8, length=1.5, width=0.5, pad=1.5,
                   colors="#595959")
    for side in ["top", "right"]:
        ax.spines[side].set_visible(False)
    for side in ["left", "bottom"]:
        ax.spines[side].set_color("#A6A6A6")
        ax.spines[side].set_linewidth(0.6)
    ax.text(title_x, 0.97, title, transform=ax.transAxes, ha="center",
            va="center", fontsize=9.5)

# legend
handles = [Line2D([], [], color=c, linestyle=s, linewidth=1.1)
           for c, s in zip(trait_colors, trait_styles)]
handles += [Line2D([], [], color="black", linestyle=(0, (1, 1)), linewidth=1.0),
            Line2D([], [], color="#404040", linestyle=(0, (3, 2)), linewidth=1.0)]
fig.legend(handles, traits + ["CW", "GW"], loc="upper left",
           bbox_to_anchor=(288 / W, 1 - 368 / H), frameon=False, fontsize=5,
           handlelength=1.6, handletextpad=0.3, labelspacing=0.45,
           borderpad=0, borderaxespad=0)

# axis labels and panel letters
for x, y in [(98, 353), (288, 353), (716, 380)]:
    fig.text(x / W, 1 - y / H, "cM", ha="center", va="center", fontsize=5.5,
             color="#404040")
for x, y in [(6, 188), (397, 258)]:
    fig.text(x / W, 1 - y / H, "LOD score", ha="center", va="center",
             rotation=90, fontsize=5, color="#404040")
fig.text(27 / W, 1 - 10 / H, "a", fontsize=14, fontweight="bold",
         family="Liberation Serif", ha="center", va="center")
fig.text(421 / W, 1 - 11 / H, "b", fontsize=14, fontweight="bold",
         family="Liberation Serif", ha="center", va="center")

fig.savefig("out.png", dpi=100)
